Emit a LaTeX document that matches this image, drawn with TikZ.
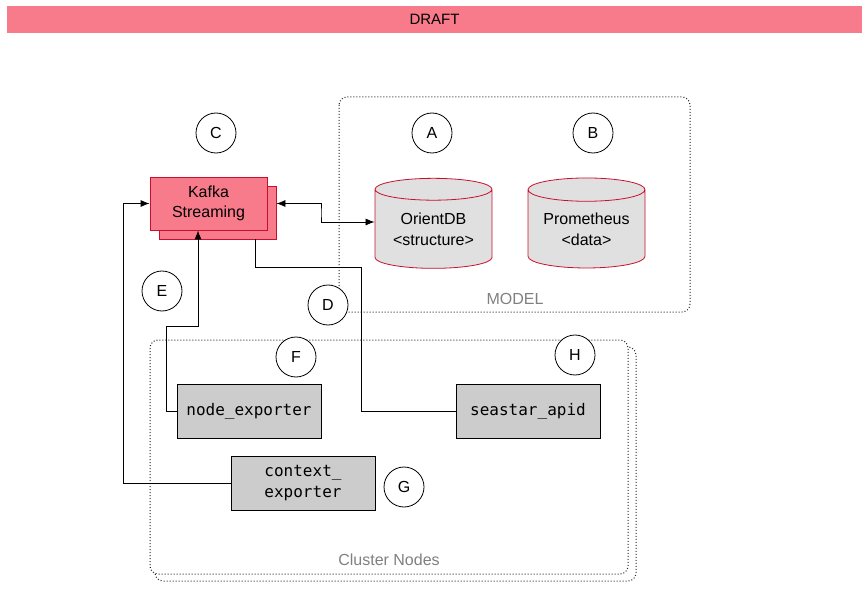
\documentclass[tikz,border=0pt]{standalone}
\usepackage{fontspec}
\setmainfont{Liberation Sans}
\setmonofont{DejaVu Sans Mono}
\usetikzlibrary{arrows.meta}
\usetikzlibrary{positioning}
\usetikzlibrary{shapes.geometric}
\definecolor{draftpink}{HTML}{F87B8B}
\definecolor{kafkared}{HTML}{C8102E}
\definecolor{dbgray}{HTML}{E0E0E0}
\definecolor{boxgray}{HTML}{CCCCCC}
\definecolor{labelgray}{HTML}{808080}
\tikzset{letter/.style = {draw, circle, minimum size = 40, inner sep = 0,
                          font = \fontsize{16}{18}\selectfont}}
\tikzset{kafkabox/.style = {draw = kafkared, fill = draftpink, minimum width = 117,
                            minimum height = 53, align = center, inner sep = 0,
                            font = \fontsize{16}{20}\selectfont}}
\tikzset{dbase/.style = {draw = kafkared, fill = dbgray, cylinder, shape border rotate = 90,
                         aspect = 0.27, minimum width = 117, minimum height = 90,
                         align = center, inner sep = 0, font = \fontsize{16}{21}\selectfont}}
\tikzset{exporter/.style = {draw, fill = boxgray, minimum width = 144, minimum height = 54,
                            align = center, inner sep = 0, font = \ttfamily\fontsize{16}{21}\selectfont}}
\tikzset{group/.style = {draw = black!85, dotted, line width = 1, rounded corners = 8}}
\tikzset{grouplabel/.style = {text = labelgray, font = \fontsize{16}{18}\selectfont}}

\begin{document}
\begin{tikzpicture}[x=1pt, y=-1pt, >={Latex[length=9, width=7]}, line width=0.8]
      \useasboundingbox (0, 0) rectangle (868, 591);

      % banner
      \node (draft) at (434.5, 19.5) [fill = draftpink, minimum width = 855, minimum height = 27,
                                      inner sep = 0, font = \fontsize{15}{18}\selectfont] {DRAFT};

      % containers
      \draw [group] (339, 97) rectangle (690, 312);
      \node (model) at (515, 299) [grouplabel] {MODEL};
      \draw [group] (155, 347) rectangle (636, 581);
      \draw [group, fill = white] (150, 340) rectangle (628, 574);
      \node (cluster) at (389, 560) [grouplabel] {Cluster Nodes};

      % kafka
      \node (kafkaback) at (217.5, 212.5) [kafkabox] {};
      \node (kafka) at (208.5, 203.5) [kafkabox] {Kafka\\Streaming};

      % databases
      \node (odb) at (433.5, 229) [dbase] {OrientDB\\<structure>};
      \node (prom) at (586.5, 229) [dbase] {Prometheus\\<data>};

      % exporters
      \node (nodeexp) at (249, 411) [exporter] {node\_exporter};
      \node (seastar) at (528, 411) [exporter] {seastar\_apid};
      \node (ctxexp) at (303, 483) [exporter] {context\_\\exporter};

      % letters
      \node (lA) at (432, 133) [letter] {A};
      \node (lB) at (593, 133) [letter] {B};
      \node (lC) at (216, 133) [letter] {C};
      \node (lD) at (328, 305) [letter, fill = white] {D};
      \node (lE) at (162, 291) [letter] {E};
      \node (lF) at (296, 357) [letter, fill = white] {F};
      \node (lG) at (404, 487) [letter] {G};
      \node (lH) at (575, 355) [letter, fill = white] {H};

      % connectors
      \coordinate (bendA) at (321, 213);
      \coordinate (bendD) at (361, 267);
      \coordinate (bendE) at (166, 326);
      \coordinate (bendG) at (123, 300);
      \draw [<->] (kafkaback.east |- kafka.center) -| (bendA) |- ([yshift = 7]odb.west);
      \draw ([xshift = 37.5]kafkaback.south) |- (bendD) |- (seastar.west);
      \draw [->] (nodeexp.west) -| (bendE) -| ([xshift = -10.5]kafka.south);
      \draw [->] (ctxexp.west) -- (ctxexp.west -| bendG) |- (kafka.west);
\end{tikzpicture}
\end{document}
